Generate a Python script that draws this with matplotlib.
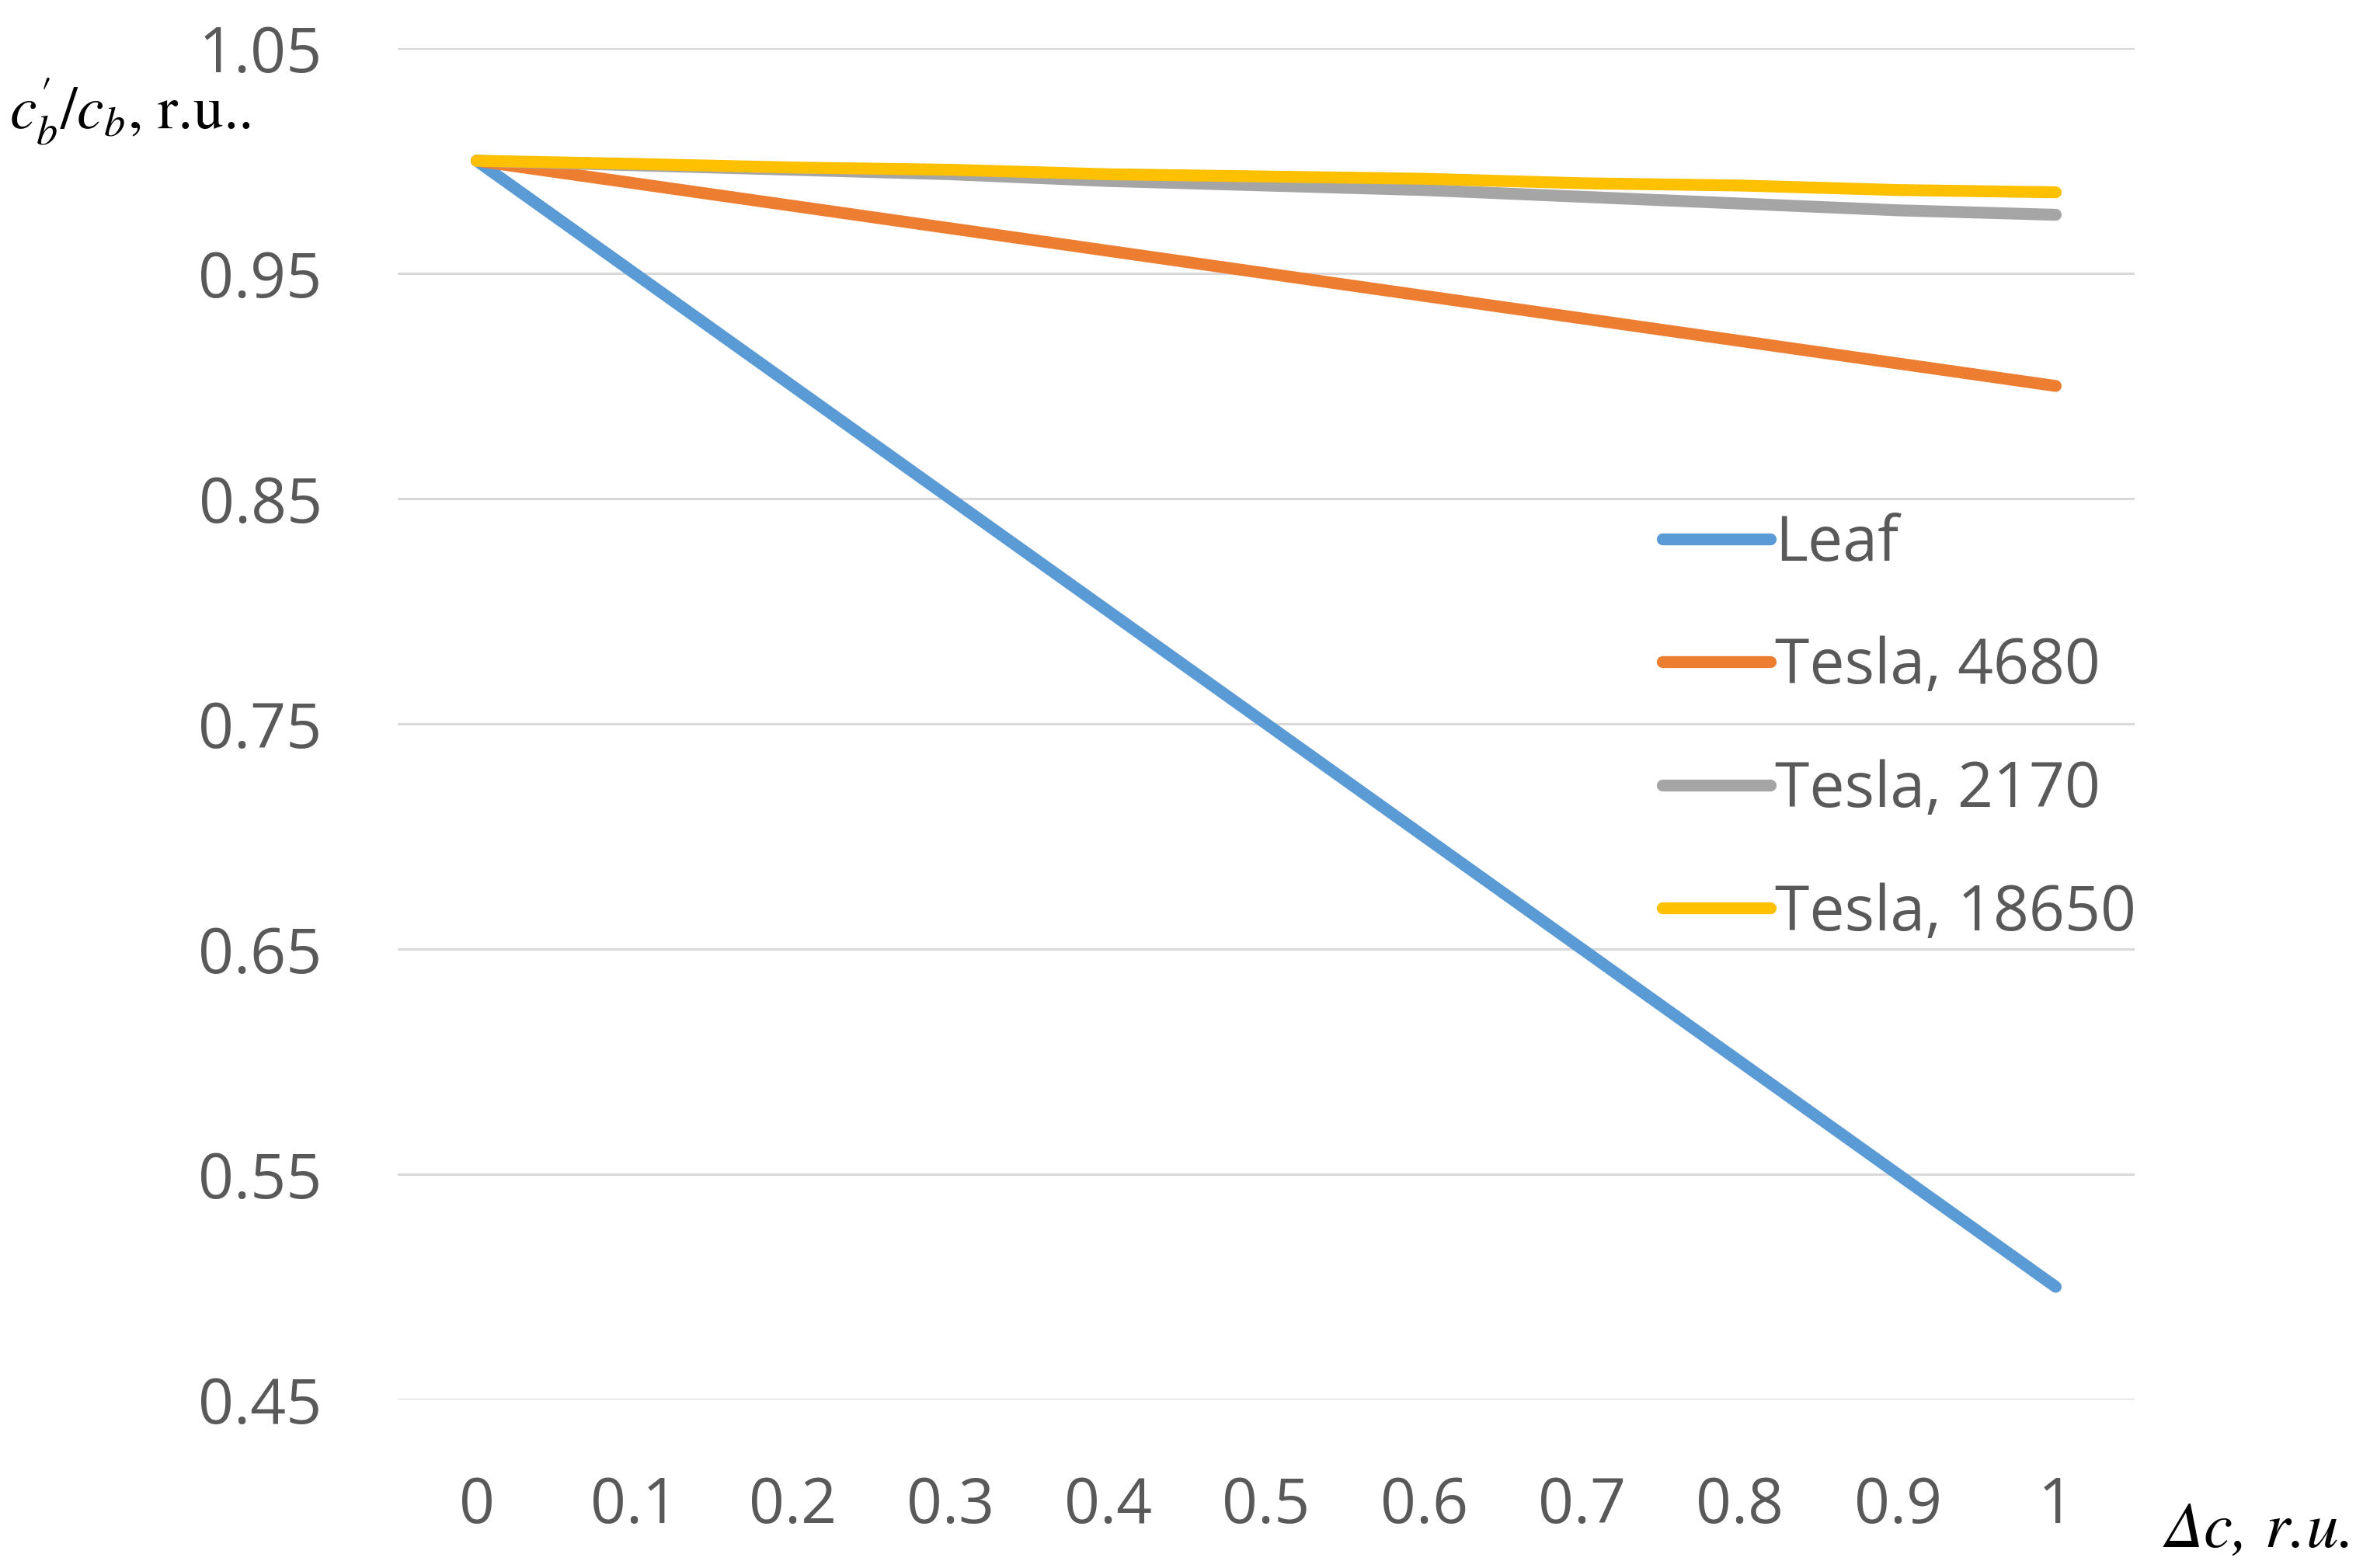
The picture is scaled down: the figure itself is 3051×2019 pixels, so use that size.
import matplotlib
matplotlib.use("Agg")
import matplotlib.pyplot as plt

plt.rcParams['font.family'] = ['Open Sans', 'DejaVu Sans']
plt.rcParams['mathtext.fontset'] = 'stix'

# ── DATA ────────────────────────────────────────────────────────────────
x_labels = ['0', '0.1', '0.2', '0.3', '0.4', '0.5', '0.6', '0.7', '0.8', '0.9', '1']
leaf       = [1.00, 0.95, 0.90, 0.85, 0.80, 0.75, 0.70, 0.65, 0.60, 0.55, 0.50]
tesla_4680 = [1.00, 0.99, 0.98, 0.97, 0.96, 0.95, 0.94, 0.93, 0.92, 0.91, 0.90]
tesla_2170 = [1.00, 0.998, 0.996, 0.994, 0.991, 0.989, 0.987, 0.984, 0.981, 0.978, 0.976]
tesla_18650 = [1.00, 0.9986, 0.997, 0.996, 0.994, 0.993, 0.992, 0.990, 0.989, 0.987, 0.986]
y_ticks = [0.45, 0.55, 0.65, 0.75, 0.85, 0.95, 1.05]

series = [("Leaf", leaf, '#5B9BD5'),
          ("Tesla, 4680", tesla_4680, '#ED7D31'),
          ("Tesla, 2170", tesla_2170, '#A5A5A5'),
          ("Tesla, 18650", tesla_18650, '#FFC000')]

TXT = '#595959'
GRID = '#d9d9d9'

fig = plt.figure(figsize=(30.51, 20.19), dpi=100, facecolor='white')
ax = fig.add_axes([0.1678, 0.1075, 0.7329, 0.8618])

pos = list(range(len(x_labels)))
for name, vals, col in series:
    ax.plot(pos, vals, color=col, lw=11, solid_capstyle='round', label=name, zorder=3)

ax.set_xlim(-0.5, len(x_labels) - 0.5)
ax.set_ylim(0.45, 1.05)
ax.set_yticks(y_ticks)
ax.set_yticklabels([f'{v:.2f}' for v in y_ticks])
ax.set_xticks(pos)
ax.set_xticklabels(x_labels)
ax.grid(axis='y', color=GRID, lw=2.2, zorder=0)
ax.grid(axis='x', visible=False)
for sp in ax.spines.values():
    sp.set_visible(False)
ax.tick_params(axis='both', length=0, labelsize=58, colors=TXT)
ax.tick_params(axis='y', pad=70)
ax.tick_params(axis='x', pad=70)

leg = ax.legend(loc='upper left', bbox_to_anchor=(0.7014, 0.673),
                bbox_transform=fig.transFigure, frameon=False, fontsize=58,
                handlelength=1.72, handletextpad=0.08, labelspacing=0.97,
                borderpad=0, borderaxespad=0)
for t in leg.get_texts():
    t.set_color(TXT)
for h in leg.get_lines():
    h.set_linewidth(11)
    h.set_solid_capstyle('round')

# axis titles (kept clear of the 1.05 tick label)
fig.text(0.004, 0.918, r"$c_b^{\prime}/c_b$, r.u..", fontsize=56, color='black',
         family='STIXGeneral', ha='left', va='baseline')
fig.text(0.9135, 0.0135, "Δc, r.u.", fontsize=60, color='black',
         family='STIXGeneral', style='italic', ha='left', va='baseline')

fig.savefig('out.png', dpi=100, facecolor='white')
